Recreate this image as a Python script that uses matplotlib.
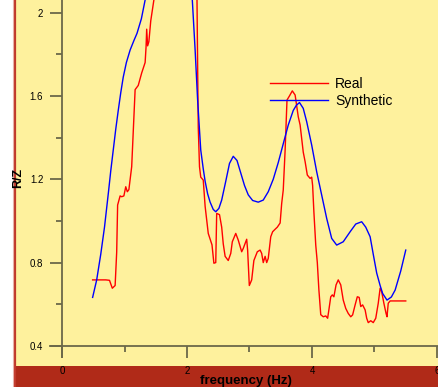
import matplotlib.pyplot as plt
from matplotlib.patches import Rectangle
from matplotlib.lines import Line2D

# data
real_f = [0.49, 0.60, 0.70, 0.76, 0.805, 0.85, 0.875, 0.89, 0.93, 0.955, 0.99, 1.02, 1.045,
          1.07, 1.115, 1.17, 1.22, 1.275, 1.33, 1.345, 1.355, 1.37, 1.39, 1.42, 1.47,
          1.55, 1.65, 1.75, 1.85, 1.95, 2.05, 2.16, 2.17, 2.18, 2.20, 2.22, 2.26, 2.29,
          2.34, 2.40, 2.43, 2.46, 2.475, 2.52, 2.555, 2.58, 2.61, 2.66, 2.70, 2.725, 2.78,
          2.82, 2.875, 2.90, 2.955, 2.97, 2.997, 3.035, 3.07, 3.125, 3.17, 3.195, 3.22,
          3.25, 3.275, 3.30, 3.34, 3.37, 3.41, 3.445, 3.49, 3.515, 3.54, 3.57, 3.60, 3.64,
          3.685, 3.73, 3.78, 3.81, 3.86, 3.89, 3.925, 3.97, 3.995, 4.01, 4.03, 4.06, 4.085,
          4.11, 4.14, 4.18, 4.22, 4.25, 4.27, 4.30, 4.325, 4.35, 4.385, 4.42, 4.46, 4.50, 4.54,
          4.58, 4.62, 4.65, 4.69, 4.725, 4.755, 4.78, 4.81, 4.85, 4.875, 4.90, 4.94, 4.98,
          5.02, 5.06, 5.09, 5.115, 5.15, 5.185, 5.20, 5.22, 5.25, 5.50]
real_v = [0.717, 0.717, 0.717, 0.715, 0.677, 0.69, 0.85, 1.076, 1.12, 1.116, 1.12, 1.164, 1.14,
          1.15, 1.26, 1.63, 1.65, 1.71, 1.76, 1.835, 1.92, 1.84, 1.86, 1.96, 2.06,
          2.25, 2.45, 2.55, 2.50, 2.40, 2.28, 2.06, 1.75, 1.45, 1.26, 1.21, 1.196, 1.07,
          0.94, 0.885, 0.797, 0.80, 1.036, 1.03, 0.97, 0.89, 0.83, 0.81, 0.844, 0.90, 0.94,
          0.908, 0.852, 0.868, 0.912, 0.86, 0.69, 0.717, 0.81, 0.852, 0.86, 0.844, 0.80,
          0.83, 0.80, 0.82, 0.924, 0.948, 0.96, 0.97, 0.99, 1.084, 1.148, 1.34, 1.58, 1.60,
          1.624, 1.604, 1.50, 1.46, 1.33, 1.284, 1.22, 1.204, 1.21, 1.17, 1.044, 0.884, 0.80,
          0.67, 0.55, 0.54, 0.544, 0.533, 0.573, 0.636, 0.645, 0.636, 0.693, 0.717, 0.693, 0.62, 0.58,
          0.556, 0.54, 0.549, 0.597, 0.636, 0.633, 0.589, 0.597, 0.573, 0.533, 0.512, 0.521, 0.512,
          0.533, 0.605, 0.677, 0.66, 0.605, 0.556, 0.54, 0.605, 0.616, 0.616]

synth_f = [0.49, 0.555, 0.62, 0.68, 0.747, 0.78, 0.82, 0.86, 0.90, 0.94, 0.98, 1.03, 1.09,
           1.15, 1.20, 1.27, 1.33, 1.45, 1.60, 1.72, 1.85, 1.97, 2.085, 2.13, 2.17, 2.22,
           2.26, 2.29, 2.33, 2.37, 2.42, 2.46, 2.51, 2.555, 2.62, 2.68, 2.74, 2.80, 2.86,
           2.92, 2.98, 3.05, 3.14, 3.22, 3.30, 3.38, 3.46, 3.54, 3.62, 3.70, 3.75, 3.80,
           3.86, 3.915, 3.995, 4.075, 4.155, 4.235, 4.315, 4.395, 4.50, 4.61, 4.70, 4.795,
           4.86, 4.93, 4.98, 5.035, 5.09, 5.13, 5.20, 5.27, 5.33, 5.42, 5.50]
synth_v = [0.633, 0.717, 0.84, 0.97, 1.148, 1.24, 1.34, 1.44, 1.53, 1.615, 1.69, 1.76, 1.82,
           1.865, 1.90, 1.97, 2.06, 2.22, 2.36, 2.40, 2.35, 2.22, 2.06, 1.82, 1.58, 1.34,
           1.25, 1.19, 1.13, 1.09, 1.055, 1.044, 1.06, 1.10, 1.19, 1.276, 1.31, 1.29, 1.23,
           1.17, 1.125, 1.098, 1.09, 1.10, 1.14, 1.20, 1.28, 1.37, 1.46, 1.53, 1.555, 1.568,
           1.54, 1.476, 1.364, 1.236, 1.124, 1.012, 0.916, 0.884, 0.90, 0.948, 0.985, 0.996,
           0.97, 0.924, 0.84, 0.75, 0.69, 0.652, 0.62, 0.635, 0.668, 0.76, 0.86]

x_major = [0, 2, 4, 6]
x_minor = [1, 3, 5]
y_major = [0.4, 0.8, 1.2, 1.6, 2.0]
y_labels = ['0.4', '0.8', '1.2', '1.6', '2']
y_minor = [0.6, 1.0, 1.4, 1.8]

plt.rcParams['font.family'] = ['Liberation Sans', 'DejaVu Sans']

W, H = 438, 387
fig = plt.figure(figsize=(W / 100, H / 100), dpi=100)
fig.patch.set_facecolor('white')

# backgrounds (figure pixel coords -> fraction)
yellow = '#FEF19D'
fig.patches.append(Rectangle((14 / W, (H - 366) / H), 1, 366 / H, transform=fig.transFigure,
                             facecolor=yellow, edgecolor='none', zorder=-2))
fig.patches.append(Rectangle((14 / W, 0), 1, (H - 366) / H, transform=fig.transFigure,
                             facecolor='#B02A18', edgecolor='none', zorder=-2))
fig.lines.append(Line2D([14.5 / W, 14.5 / W], [0, 1], transform=fig.transFigure,
                        color='#C0392B', lw=1.6, zorder=-1))
fig.lines.append(Line2D([12.8 / W, 12.8 / W], [0, 1], transform=fig.transFigure,
                        color='#E8B0A8', lw=0.8, zorder=-1))

ax = fig.add_axes([50 / W, (H - 357) / H, 388 / W, 357 / H])
ax.patch.set_visible(False)
ax.set_xlim(-0.192, 6.016)
ax.set_ylim(0.347, 2.06)

ax.plot(real_f, real_v, color='#FF0000', lw=1.0, label='Real')
ax.plot(synth_f, synth_v, color='#0000FF', lw=1.0, label='Synthetic')

spine_col = '#6B6849'
for side in ['top', 'right']:
    ax.spines[side].set_visible(False)
ax.spines['left'].set_position(('data', 0))
ax.spines['bottom'].set_position(('data', 0.4))
for side in ['left', 'bottom']:
    ax.spines[side].set_color(spine_col)
    ax.spines[side].set_linewidth(1.3)

ax.set_xticks(x_major, labels=[str(v) for v in x_major])
ax.set_xticks(x_minor, minor=True)
ax.set_yticks(y_major, labels=y_labels)
ax.set_yticks(y_minor, minor=True)
ax.tick_params(which='major', length=8.5, width=1.3, color=spine_col, labelsize=7,
               direction='out', pad=5)
ax.tick_params(which='minor', length=4.5, width=1.3, color=spine_col, direction='out')
ax.tick_params(axis='x', which='major', pad=6)

fig.text(18 / W, 1 - 178 / H, 'R/Z', rotation=90, fontsize=9, fontweight='bold',
         ha='center', va='center')
fig.text(246 / W, 1 - 381 / H, 'frequency (Hz)', fontsize=9.5, fontweight='bold',
         ha='center', va='center')

leg = ax.legend(loc='upper left', bbox_to_anchor=(270 / W, 1 - 77 / H),
                bbox_transform=fig.transFigure, frameon=False, fontsize=10,
                handlelength=4.2, handletextpad=0.5, labelspacing=0.2,
                borderpad=0, borderaxespad=0)

fig.savefig('out.png', dpi=100)
